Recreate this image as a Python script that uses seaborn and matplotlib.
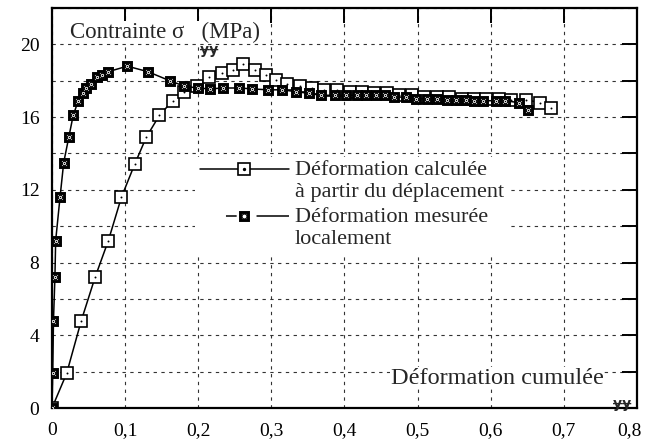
import matplotlib
matplotlib.use("Agg")
import matplotlib.pyplot as plt
import matplotlib.transforms as mtransforms
import seaborn as sns
import numpy as np
from matplotlib.lines import Line2D
from matplotlib.legend_handler import HandlerTuple, HandlerLine2D
from matplotlib.ticker import FixedLocator, FuncFormatter

# ---------------- data ----------------
calc_x = [0, 0.02, 0.04, 0.059, 0.077, 0.095, 0.113, 0.129, 0.147, 0.165, 0.181,
          0.198, 0.215, 0.232, 0.247, 0.261, 0.277, 0.292, 0.307, 0.322, 0.339,
          0.356, 0.372, 0.39, 0.407, 0.424, 0.441, 0.458, 0.475, 0.492, 0.509,
          0.526, 0.543, 0.56, 0.577, 0.594, 0.611, 0.628, 0.648, 0.667, 0.683]
calc_y = [0, 1.9, 4.8, 7.2, 9.2, 11.6, 13.4, 14.9, 16.1, 16.9, 17.4,
          17.7, 18.2, 18.4, 18.6, 18.9, 18.6, 18.3, 18.05, 17.8, 17.7,
          17.6, 17.5, 17.5, 17.4, 17.4, 17.3, 17.3, 17.2, 17.2, 17.1,
          17.1, 17.1, 17.0, 17.0, 17.0, 17.0, 16.95, 16.95, 16.8, 16.5]

meas_x = [0, 0.001, 0.002, 0.004, 0.005, 0.011, 0.016, 0.023, 0.029, 0.036,
          0.042, 0.047, 0.053, 0.061, 0.068, 0.077, 0.103, 0.131, 0.161, 0.181,
          0.199, 0.216, 0.234, 0.256, 0.274, 0.295, 0.314, 0.334, 0.352, 0.368,
          0.387, 0.402, 0.417, 0.43, 0.443, 0.455, 0.468, 0.484, 0.498, 0.513,
          0.527, 0.54, 0.552, 0.566, 0.577, 0.59, 0.607, 0.619, 0.638, 0.651]
meas_y = [0, 1.95, 4.8, 7.2, 9.2, 11.6, 13.5, 14.9, 16.1, 16.9,
          17.3, 17.6, 17.8, 18.2, 18.3, 18.5, 18.8, 18.5, 18.0, 17.7,
          17.6, 17.55, 17.6, 17.6, 17.55, 17.5, 17.5, 17.4, 17.3, 17.2,
          17.2, 17.2, 17.2, 17.2, 17.2, 17.2, 17.1, 17.1, 17.0, 17.0,
          17.0, 16.95, 16.95, 16.95, 16.9, 16.9, 16.9, 16.9, 16.8, 16.4]

x_ticks = [0, 0.1, 0.2, 0.3, 0.4, 0.5, 0.6, 0.7, 0.8]
x_ticklabels = ["0", "0,1", "0,2", "0,3", "0,4", "0,5", "0,6", "0,7", "0,8"]
y_ticks = [0, 2, 4, 6, 8, 10, 12, 14, 16, 18, 20, 22]
y_labelled = [0, 4, 8, 12, 16, 20]

label_calc = "Déformation calculée\nà partir du déplacement"
label_meas = "Déformation mesurée\nlocalement"
y_title = "Contrainte σ   (MPa)"
x_title = "Déformation cumulée"
sub_mark = "ɏɏ"

# ---------------- style ----------------
sns.set_theme(style="white")
plt.rcParams["font.family"] = ["Liberation Serif", "DejaVu Serif"]
plt.rcParams["axes.edgecolor"] = "black"

fig = plt.figure(figsize=(6.45, 4.44), dpi=100)
ax = fig.add_axes([52 / 645, 1 - 408 / 444, 585 / 645, 400 / 444])

CALC_KW = dict(color="black", lw=1.1, marker="s", markersize=8,
               markerfacecolor="white", markeredgecolor="black",
               markeredgewidth=1.2)
MEAS_KW = dict(color="black", lw=1.1, marker="s", markersize=6.3,
               markerfacecolor="white", markeredgecolor="black",
               markeredgewidth=2.1)

# calculated series: open squares with centre dot
sns.lineplot(x=calc_x, y=calc_y, ax=ax, sort=False, estimator=None,
             zorder=3, **CALC_KW)
sns.scatterplot(x=calc_x, y=calc_y, ax=ax, color="black", s=2,
                linewidth=0, zorder=4)

# measured series: thick squares with inner circle and dot
sns.lineplot(x=meas_x, y=meas_y, ax=ax, sort=False, estimator=None,
             zorder=5, **MEAS_KW)
sns.scatterplot(x=meas_x, y=meas_y, ax=ax, marker="o", s=10,
                facecolor="white", edgecolor="black", linewidth=0.8, zorder=6)
sns.scatterplot(x=meas_x, y=meas_y, ax=ax, color="black", s=1.2,
                linewidth=0, zorder=7)

ax.set_xlim(0, 0.8)
ax.set_ylim(0, 22)
ax.set_xlabel("")
ax.set_ylabel("")

ax.xaxis.set_major_locator(FixedLocator(x_ticks))
ax.set_xticklabels(x_ticklabels)
ax.yaxis.set_major_locator(FixedLocator(y_ticks))
ax.yaxis.set_major_formatter(FuncFormatter(
    lambda v, p: f"{int(round(v))}" if int(round(v)) in y_labelled else ""))

ax.tick_params(direction="in", length=11, width=1.4, top=True, right=True,
               labelsize=14, colors="black", pad=9)
ax.tick_params(axis="x", pad=10)
# last x label sits slightly left of its tick, as in the reference
last = ax.get_xticklabels()[-1]
last.set_horizontalalignment("right")
last.set_transform(last.get_transform() +
                   mtransforms.ScaledTranslation(5 / 100, 0, fig.dpi_scale_trans))

for s in ax.spines.values():
    s.set_linewidth(1.6)
    s.set_color("black")

ax.grid(True, color="#333333", linestyle=(0, (3, 4)), linewidth=0.8)
ax.set_axisbelow(True)

# axis titles inside the plot
ax.text(0.031, 0.94, y_title, transform=ax.transAxes, fontsize=16.5,
        va="center", ha="left", zorder=8,
        bbox=dict(facecolor="white", edgecolor="none", pad=0.5))
ax.text(0.268, 0.895, sub_mark, transform=ax.transAxes, fontsize=10,
        fontweight="bold", family=["DejaVu Sans"], va="center", ha="center",
        zorder=9)
ax.text(0.943, 0.075, x_title, transform=ax.transAxes, fontsize=17.5,
        va="center", ha="right", zorder=8,
        bbox=dict(facecolor="white", edgecolor="none", pad=0.5))
ax.text(0.975, 0.01, sub_mark, transform=ax.transAxes, fontsize=10,
        fontweight="bold", family=["DejaVu Sans"], va="center", ha="center",
        zorder=9)


class TopLineHandler(HandlerLine2D):
    """Draw the legend sample level with the first line of a 2-line label."""

    def __init__(self, dy, **kw):
        super().__init__(**kw)
        self.dy = dy

    def create_artists(self, legend, orig_handle, xdescent, ydescent, width,
                       height, fontsize, trans):
        arts = super().create_artists(legend, orig_handle, xdescent, ydescent,
                                      width, height, fontsize, trans)
        for a in arts:
            a.set_ydata(np.asarray(a.get_ydata()) + self.dy)
        return arts


# legend
h_calc = Line2D([], [], **CALC_KW)
h_calc_dot = Line2D([], [], ls="none", marker="o", markersize=1.4,
                    color="black")
meas_leg_kw = dict(MEAS_KW)
meas_leg_kw["linestyle"] = (47, (7, 13, 27, 17))
h_meas = Line2D([], [], **meas_leg_kw)
h_meas_c = Line2D([], [], ls="none", marker="o", markersize=3.6,
                  markerfacecolor="white", markeredgecolor="black",
                  markeredgewidth=0.8)
leg = ax.legend([(h_calc, h_calc_dot), (h_meas, h_meas_c)],
                [label_calc, label_meas],
                handler_map={tuple: HandlerTuple(ndivide=1),
                             Line2D: TopLineHandler(8.5)},
                loc="upper left", bbox_to_anchor=(0.245, 0.628),
                fontsize=16, frameon=True, facecolor="white",
                edgecolor="none", framealpha=1, fancybox=False,
                handlelength=4.0, handletextpad=0.27, labelspacing=0.27,
                borderpad=0.2, borderaxespad=0, numpoints=1)
leg.set_zorder(10)

fig.savefig("out.png", dpi=100)
